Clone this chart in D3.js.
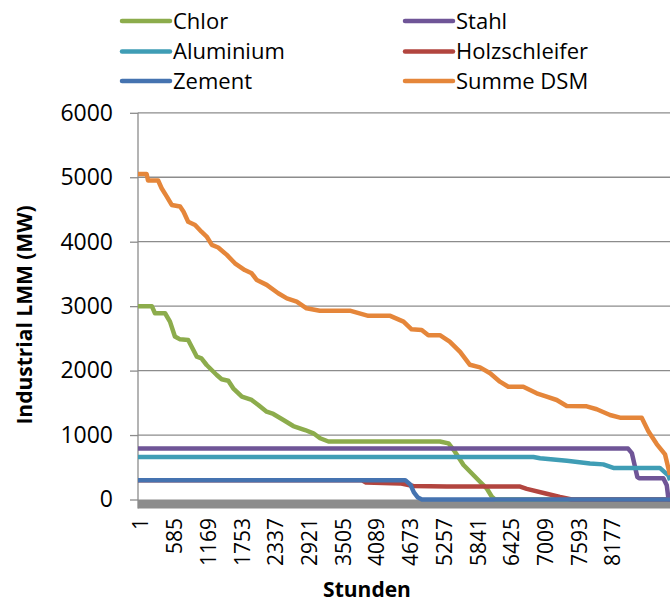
<!DOCTYPE html>
<html>
<head>
<meta charset="utf-8">
<script src="https://cdn.jsdelivr.net/npm/d3@7"></script>
<style>
    body { margin: 0; background: #fff; }
    text { font-family: "Open Sans", sans-serif; fill: #000; }
</style>
</head>
<body>
<div id="draw"></div>
<script>
// load duration curves, [hour, MW]
let chlor = [[1, 3000], [240, 3000], [295, 2890], [470, 2890], [555, 2760], [640, 2530], [730, 2485], [870, 2475],
    [960, 2320], [1020, 2215], [1100, 2190], [1190, 2087], [1365, 1932], [1450, 1865], [1565, 1843], [1650, 1725],
    [1800, 1595], [1970, 1544], [2085, 1466], [2230, 1362], [2345, 1327], [2520, 1234], [2690, 1140], [2895, 1078],
    [3040, 1027], [3155, 950], [3300, 900], [5230, 900], [5380, 870], [5490, 742], [5640, 535], [5810, 380],
    [5925, 276], [6040, 174], [6130, 43], [6185, 0], [9216, 0]];
let stahl = [[1, 790], [8490, 790], [8555, 720], [8650, 350], [8680, 330], [9100, 330], [9160, 220], [9190, 0], [9216, 0]];
let aluminium = [[1, 660], [6850, 660], [6965, 640], [7430, 600], [7830, 560], [8060, 545], [8235, 490], [9040, 490],
    [9190, 370], [9216, 300]];
let holzschleifer = [[1, 300], [3880, 300], [3950, 265], [4540, 250], [4770, 210], [5350, 200], [6620, 200],
    [6735, 165], [7080, 90], [7310, 40], [7515, 0], [9216, 0]];
let zement = [[1, 300], [4630, 300], [4720, 230], [4780, 110], [4850, 30], [4920, 0], [9216, 0]];
let summe = [[1, 5050], [150, 5050], [175, 4950], [350, 4950], [410, 4830], [500, 4700], [585, 4570], [730, 4545],
    [790, 4465], [870, 4310], [990, 4260], [1100, 4155], [1190, 4080], [1280, 3950], [1390, 3910], [1540, 3795],
    [1680, 3665], [1850, 3560], [1970, 3510], [2060, 3405], [2230, 3330], [2430, 3200], [2580, 3120], [2750, 3070],
    [2920, 2967], [3150, 2930], [3670, 2930], [3990, 2850], [4370, 2850], [4600, 2760], [4740, 2640], [4915, 2630],
    [5030, 2550], [5230, 2550], [5400, 2450], [5580, 2290], [5750, 2090], [5925, 2050], [6100, 1958], [6270, 1828],
    [6415, 1750], [6675, 1750], [6907, 1648], [7080, 1595], [7254, 1544], [7427, 1451], [7773, 1445], [7947, 1400],
    [8177, 1311], [8350, 1270], [8726, 1270], [8841, 1060], [8986, 860], [9130, 700], [9216, 380]];

let seriesNames = ['Chlor', 'Stahl', 'Aluminium', 'Holzschleifer', 'Zement', 'Summe DSM'];
let seriesColors = ['#8cac4c', '#6f5597', '#3f9db5', '#b2453f', '#4573b0', '#e5863a'];
let seriesData = [chlor, stahl, aluminium, holzschleifer, zement, summe];

let xTicks = d3.range(1, 8760, 584);
let yTicks = [0, 1000, 2000, 3000, 4000, 5000, 6000];

let width = 670,
    height = 604,
    margin = { top: 112.8, left: 138, bottom: 104.5, right: 0 };

let svg = d3.select('#draw')
    .append('svg')
    .attr('width', width)
    .attr('height', height);

let xScale = d3.scaleLinear().domain([1, 9216]).range([margin.left, width - margin.right]),
    yScale = d3.scaleLinear().domain([0, 6000]).range([height - margin.bottom, margin.top]);

// gridlines
svg.append('g')
    .selectAll('line')
    .data(yTicks.filter(d => d > 0))
    .enter()
    .append('line')
    .attr('x1', margin.left)
    .attr('x2', width)
    .attr('y1', d => yScale(d))
    .attr('y2', d => yScale(d))
    .attr('stroke', '#8c8c8c')
    .attr('stroke-width', 1.3);

// y axis
let yAxis = svg.append('g')
    .attr('transform', 'translate(' + margin.left + ',0)')
    .call(d3.axisLeft(yScale).tickValues(yTicks).tickSize(8).tickPadding(17).tickFormat(d3.format('d')));
yAxis.select('.domain').attr('stroke', '#8c8c8c').attr('stroke-width', 1.3)
    .attr('d', 'M0,' + yScale(6000) + 'V' + (yScale(0) + 9));
yAxis.selectAll('.tick line').attr('stroke', '#8c8c8c').attr('stroke-width', 1.3);
yAxis.selectAll('.tick text').style('font-size', '23px').style('font-family', '"Open Sans", sans-serif');

// dense category ticks form a grey band under the axis
svg.append('rect')
    .attr('x', margin.left)
    .attr('y', yScale(0))
    .attr('width', width - margin.left)
    .attr('height', 9)
    .attr('fill', '#8c8c8c');

// x labels
svg.append('g')
    .selectAll('text')
    .data(xTicks)
    .enter()
    .append('text')
    .attr('transform', d => 'translate(' + (xScale(d) + 3) + ',' + 518 + ') rotate(-90)')
    .attr('dy', '0.35em')
    .style('text-anchor', 'end')
    .style('font-size', '21px')
    .text(d => d);

// lines
let line = d3.line().x(d => xScale(d[0])).y(d => yScale(d[1]));
svg.append('g')
    .selectAll('path')
    .data(seriesData)
    .enter()
    .append('path')
    .attr('d', line)
    .attr('fill', 'none')
    .attr('stroke', (d, i) => seriesColors[i])
    .attr('stroke-width', 4.5)
    .attr('stroke-linejoin', 'round');

// axis titles
svg.append('text')
    .attr('transform', 'translate(25,315) rotate(-90)')
    .attr('dy', '0.35em')
    .style('text-anchor', 'middle')
    .style('font-size', '21px')
    .style('font-weight', 'bold')
    .text('Industrial LMM (MW)');

svg.append('text')
    .attr('x', 367)
    .attr('y', 590)
    .attr('dy', '0.35em')
    .style('text-anchor', 'middle')
    .style('font-size', '21px')
    .style('font-weight', 'bold')
    .text('Stunden');

// legend
let legend = svg.append('g')
    .selectAll('g')
    .data(seriesNames)
    .enter()
    .append('g')
    .attr('transform', (d, i) => 'translate(' + (i % 2 ? 405 : 122) + ',' + [21, 51.5, 81][Math.floor(i / 2)] + ')');
legend.append('line')
    .attr('x1', 0)
    .attr('x2', 48)
    .attr('stroke', (d, i) => seriesColors[i])
    .attr('stroke-width', 4.5)
    .attr('stroke-linecap', 'round');
legend.append('text')
    .attr('x', 51)
    .attr('dy', '0.35em')
    .style('font-size', '22px')
    .text(d => d);
</script>
</body>
</html>
